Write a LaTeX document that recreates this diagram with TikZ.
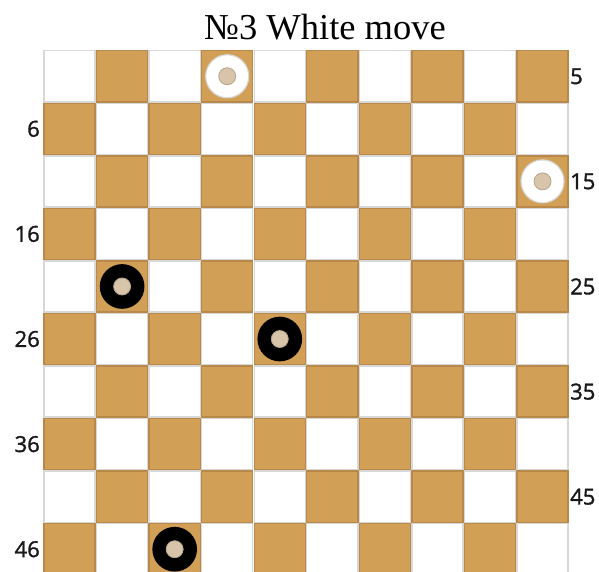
\documentclass[tikz,border=0pt]{standalone}
\usepackage{fontspec}
\setmainfont{Liberation Serif}
\newfontfamily\labfont[FakeBold=1.5]{Open Sans}
\definecolor{darksq}{HTML}{D19F55}
\definecolor{darkedge}{HTML}{B8894A}
\definecolor{lightedge}{HTML}{D8D8D8}
\definecolor{core}{HTML}{D8C4A8}
\definecolor{coreedge}{HTML}{B5A58F}
\tikzset{
  lightbox/.style={draw=lightedge, fill=white, line width=1.4pt, minimum size=51.1pt, inner sep=0pt, rectangle},
  darkbox/.style={draw=darkedge, fill=darksq, line width=1.4pt, minimum size=51.1pt, inner sep=0pt, rectangle},
  whitepc/.style={circle, fill=white, draw=lightedge, line width=1.2pt, minimum size=43pt, inner sep=0pt},
  blackpc/.style={circle, fill=black, minimum size=44.7pt, inner sep=0pt},
  corepc/.style={circle, fill=core, draw=coreedge, line width=0.8pt, minimum size=17pt, inner sep=0pt},
  lab/.style={font=\labfont\fontsize{22}{22}\selectfont, text=black!90, inner sep=0pt}
}
\begin{document}
\begin{tikzpicture}[x=1pt,y=-1pt]
\useasboundingbox (0,0) rectangle (599,572);
\begin{scope}
\clip (0,0) rectangle (599,572);
\foreach \r in {0,...,9}{
  \foreach \c in {0,...,9}{
    \pgfmathtruncatemacro\p{mod(\r+\c,2)}
    \ifnum\p=1
      \node[darkbox] (sq-\r-\c) at ({43.3+52.55*(\c+0.5)},{50+52.55*(\r+0.5)}) {};
    \else
      \node[lightbox] (sq-\r-\c) at ({43.3+52.55*(\c+0.5)},{50+52.55*(\r+0.5)}) {};
    \fi
  }
}
% pieces
\node[whitepc] (w1) at (sq-0-3) {};
\node[corepc] (w1c) at (sq-0-3) {};
\node[whitepc] (w2) at (sq-2-9) {};
\node[corepc] (w2c) at (sq-2-9) {};
\node[blackpc] (b1) at (sq-4-1) {};
\node[corepc] (b1c) at (sq-4-1) {};
\node[blackpc] (b2) at (sq-5-4) {};
\node[corepc] (b2c) at (sq-5-4) {};
\node[blackpc] (b3) at (sq-9-2) {};
\node[corepc] (b3c) at (sq-9-2) {};
\end{scope}
% labels
\node[lab, anchor=west] (l5) at (570,{50+52.55*0.5}) {5};
\node[lab, anchor=east] (l6) at (40,{50+52.55*1.5}) {6};
\node[lab, anchor=west] (l15) at (570,{50+52.55*2.5}) {15};
\node[lab, anchor=east] (l16) at (40,{50+52.55*3.5}) {16};
\node[lab, anchor=west] (l25) at (570,{50+52.55*4.5}) {25};
\node[lab, anchor=east] (l26) at (40,{50+52.55*5.5}) {26};
\node[lab, anchor=west] (l35) at (570,{50+52.55*6.5}) {35};
\node[lab, anchor=east] (l36) at (40,{50+52.55*7.5}) {36};
\node[lab, anchor=west] (l45) at (570,{50+52.55*8.5}) {45};
\node[lab, anchor=east] (l46) at (40,{50+52.55*9.5}) {46};
% title
\node[font=\fontsize{36.5}{36.5}\selectfont, inner sep=0pt, anchor=base] (title) at (325,40) {№3 White move};
\end{tikzpicture}
\end{document}
